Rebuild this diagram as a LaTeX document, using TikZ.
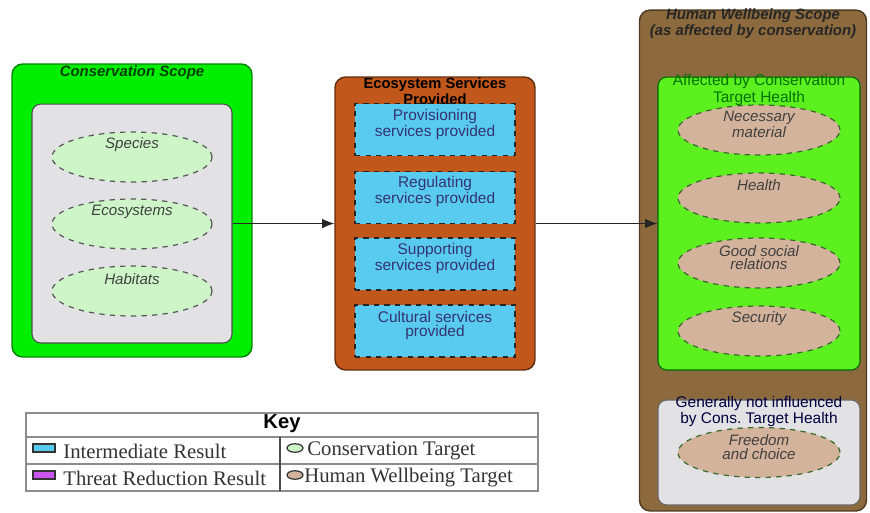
\documentclass[tikz,border=0pt]{standalone}
\usepackage{fontspec}
\setmainfont{Liberation Sans}
\newfontfamily\keyserif{Liberation Serif}
\usetikzlibrary{shapes.geometric,arrows.meta}

\definecolor{consgreen}{HTML}{00EE00}
\definecolor{boxgray}{HTML}{E2E2E5}
\definecolor{targetgreen}{HTML}{CDF5C8}
\definecolor{esorange}{HTML}{C2571B}
\definecolor{resultblue}{HTML}{5ACBF0}
\definecolor{hwbrown}{HTML}{8C6A3D}
\definecolor{affectgreen}{HTML}{5DF01F}
\definecolor{hwtan}{HTML}{D3B39B}
\definecolor{dashgreen}{HTML}{3A6A2A}
\definecolor{threatpurple}{HTML}{CC55EE}

\begin{document}
\begin{tikzpicture}[x=0.02cm, y=-0.02cm,
    outerbox/.style={rounded corners=6pt, line width=.8pt, inner sep=0pt},
    innerbox/.style={rounded corners=5pt, line width=.6pt, inner sep=0pt},
    scopetitle/.style={font=\fontsize{8.5}{7.6}\selectfont\bfseries\itshape, align=center, inner sep=0pt},
    subtitle/.style={font=\fontsize{8.8}{7.8}\selectfont, align=center, inner sep=0pt},
    consell/.style={ellipse, draw=black!65, dashed, fill=targetgreen, line width=.7pt,
        minimum width=3.2cm, minimum height=1cm, inner sep=0pt},
    hwell/.style={consell, draw=dashgreen, fill=hwtan, minimum width=3.24cm},
    ellbl/.style={font=\fontsize{8.6}{7.8}\selectfont\itshape, text=black!75, align=center},
    resultbox/.style={draw=black!85, dashed, fill=resultblue, line width=.6pt,
        minimum width=3.2cm, minimum height=1.04cm, inner sep=0pt},
    boxlbl/.style={font=\fontsize{8.8}{7.8}\selectfont, text=black!70!blue!80, align=center},
    flow/.style={-{Latex[length=7pt,width=5.5pt]}, line width=.6pt, black!85},
    keytxt/.style={font=\keyserif\fontsize{11.8}{12}\selectfont, text=black!80, inner sep=0pt, anchor=west},
    swatch/.style={draw=black!80, line width=.7pt, minimum width=0.44cm, minimum height=0.16cm, inner sep=0pt},
    swatchell/.style={ellipse, draw=black!80, line width=.7pt, minimum width=0.32cm, minimum height=0.17cm, inner sep=0pt}]
    \useasboundingbox (0,0) rectangle (870,512);

    % conservation scope
    \node[outerbox, draw=consgreen!55!black, fill=consgreen, minimum width=4.8cm, minimum height=5.86cm] (cons) at (132,210.5) {};
    \node[scopetitle, text=black!75!green] (cons-title) at (132,73) {Conservation Scope};
    \node[innerbox, draw=black!70, fill=boxgray, minimum width=4cm, minimum height=4.78cm] (cons-in) at (132,223.5) {};
    \node[consell, label={[ellbl, yshift=0.24cm]center:Species}] (species) at (132,157) {};
    \node[consell, label={[ellbl, yshift=0.24cm]center:Ecosystems}] (ecosys) at (132,224) {};
    \node[consell, label={[ellbl, yshift=0.24cm]center:Habitats}] (habitats) at (132,291) {};

    % ecosystem services
    \node[outerbox, draw=esorange!50!black, fill=esorange, minimum width=4cm, minimum height=5.86cm] (services) at (435,223.5) {};
    \node[scopetitle, font=\fontsize{8.4}{6.9}\selectfont\bfseries] (services-title) at (435,91) {Ecosystem Services\\Provided};
    \node[resultbox, label={[boxlbl, yshift=0.1cm]center:Provisioning\\services provided}] (prov) at (435,129.5) {};
    \node[resultbox, label={[boxlbl, yshift=0.12cm]center:Regulating\\services provided}] (regul) at (435,197.5) {};
    \node[resultbox, label={[boxlbl, yshift=0.11cm]center:Supporting\\services provided}] (suppo) at (435,264) {};
    \node[resultbox, label={[boxlbl, yshift=0.11cm]center:Cultural services\\provided}] (cultu) at (435,331) {};

    % human wellbeing scope
    \node[outerbox, draw=hwbrown!55!black, fill=hwbrown, minimum width=4.54cm, minimum height=10.02cm] (wellbeing) at (753,260.5) {};
    \node[scopetitle, text=black!85] (wellbeing-title) at (753,23.5) {Human Wellbeing Scope\\(as affected by conservation)};
    \node[innerbox, draw=black!60!green, fill=affectgreen, minimum width=4.04cm, minimum height=5.86cm] (affected) at (759,223.5) {};
    \node[subtitle, text=green!45!black] (affected-title) at (759,90) {Affected by Conservation\\Target Health};
    \node[hwell, label={[ellbl, yshift=0.11cm]center:Necessary\\material}] (material) at (759,130) {};
    \node[hwell, label={[ellbl, yshift=0.26cm]center:Health}] (health) at (759,198) {};
    \node[hwell, label={[ellbl, yshift=0.11cm]center:Good social\\relations}] (social) at (759,263) {};
    \node[hwell, label={[ellbl, yshift=0.24cm]center:Security}] (security) at (759,331) {};
    \node[innerbox, draw=black!60, fill=boxgray, minimum width=4.04cm, minimum height=2.1cm] (notinfl) at (759,452.5) {};
    \node[subtitle, text=black!75!blue] (notinfl-title) at (759,411.5) {Generally not influenced\\by Cons.\ Target Health};
    \node[hwell, label={[ellbl, yshift=0.11cm]center:Freedom\\and choice}] (freedom) at (759,452.5) {};

    % arrows
    \draw[flow] (cons-in.east) -- (services.west);
    \draw[flow] (services.east) -- (affected.west);

    % key
    \draw[black!45, line width=.6pt] (26,413) rectangle (538,491);
    \draw[black!45, line width=.6pt] (26,437) -- (538,437) (26,464) -- (538,464);
    \draw[black!70, line width=.7pt] (280,437) -- (280,491);
    \node[font=\fontsize{11.5}{12}\selectfont\bfseries, inner sep=0pt] (key-title) at (282,424) {Key};
    \node[swatch, fill=resultblue] (sw-inter) at (44,448) {};
    \node[keytxt] (k-inter) at (63,451) {Intermediate Result};
    \node[swatch, fill=threatpurple] (sw-threat) at (44,475) {};
    \node[keytxt] (k-threat) at (63,478) {Threat Reduction Result};
    \node[swatchell, fill=targetgreen] (sw-cons) at (295,448) {};
    \node[keytxt] (k-cons) at (307,451) {Conservation Target};
    \node[swatchell, fill=hwtan] (sw-hw) at (295,475) {};
    \node[keytxt] (k-hw) at (304,478) {Human Wellbeing Target};
\end{tikzpicture}
\end{document}
